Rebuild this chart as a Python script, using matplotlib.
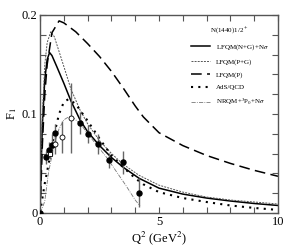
import matplotlib
matplotlib.use("Agg")
import matplotlib.pyplot as plt
from matplotlib.ticker import MultipleLocator

plt.rcParams['font.family'] = ['Liberation Serif', 'DejaVu Serif']
plt.rcParams['mathtext.fontset'] = 'stix'

# LFQM(N+G)+N sigma (solid)
q_solid = [0, 0.05, 0.1, 0.2, 0.3, 0.4, 0.5, 0.7, 1.0, 1.3, 1.68, 2.0, 2.5, 3.0, 3.5, 4.16, 5, 6, 7, 8, 9, 10]
f_solid = [0, 0.05, 0.09, 0.135, 0.155, 0.162, 0.159, 0.148, 0.131, 0.113, 0.094, 0.082, 0.068, 0.056, 0.046, 0.035, 0.025, 0.019, 0.015, 0.012, 0.0095, 0.0075]

# LFQM(P+G) (thin dotted)
q_pg = [0, 0.05, 0.1, 0.2, 0.3, 0.45, 0.6, 0.8, 1.0, 1.3, 1.68, 2.0, 2.5, 3.0, 3.5, 4.16, 5, 6, 7, 8, 9, 10]
f_pg = [0, 0.06, 0.1, 0.15, 0.172, 0.183, 0.178, 0.163, 0.148, 0.125, 0.104, 0.09, 0.073, 0.06, 0.049, 0.038, 0.028, 0.021, 0.016, 0.013, 0.011, 0.009]

# LFQM(P) (dashed)
q_p = [0, 0.1, 0.2, 0.3, 0.5, 0.8, 1.0, 1.5, 2.0, 2.5, 3.0, 3.5, 4.0, 4.34, 5, 6, 7, 8, 9, 10]
f_p = [0, 0.07, 0.12, 0.15, 0.182, 0.194, 0.192, 0.183, 0.171, 0.158, 0.143, 0.126, 0.108, 0.097, 0.081, 0.068, 0.058, 0.050, 0.043, 0.037]

# AdS/QCD (heavy dotted)
q_ads = [0, 0.1, 0.2, 0.3, 0.4, 0.6, 0.8, 1.0, 1.2, 1.5, 2.0, 2.5, 3.0, 3.5, 4.0, 4.33, 5, 6, 7, 8, 9, 10]
f_ads = [0, 0.015, 0.03, 0.042, 0.055, 0.08, 0.1, 0.112, 0.115, 0.11, 0.093, 0.075, 0.058, 0.046, 0.035, 0.029, 0.021, 0.015, 0.011, 0.0075, 0.005, 0.003]

# NRQM + 3P0 + N sigma (thin dash-dot)
q_nr = [0, 0.1, 0.2, 0.35, 0.6, 0.8, 1.0, 1.2, 1.4, 1.7, 2.0, 2.4, 2.8, 3.2, 3.6, 4.0, 4.2]
f_nr = [0, 0.005, 0.012, 0.04, 0.07, 0.085, 0.094, 0.097, 0.096, 0.09, 0.08, 0.068, 0.056, 0.042, 0.028, 0.013, 0.007]

# data: filled circles
q_fill = [0.0, 0.27, 0.38, 0.50, 0.64, 1.68, 2.03, 2.45, 2.91, 3.47, 4.16]
f_fill = [0.0, 0.056, 0.064, 0.069, 0.081, 0.091, 0.080, 0.070, 0.053, 0.051, 0.0205]
e_fill = [0.0, 0.007, 0.008, 0.011, 0.009, 0.011, 0.009, 0.010, 0.008, 0.012, 0.015]
# open circles
q_open = [0.62, 0.92, 1.29]
f_open = [0.070, 0.077, 0.096]
e_open = [0.010, 0.016, 0.035]
# open square
q_sq = [0.41]
f_sq = [0.060]
e_sq = [0.006]

fig = plt.figure(figsize=(2.86, 2.49), dpi=100)
ax = fig.add_axes([0.140, 0.145, 0.832, 0.795])

ax.plot(q_solid, f_solid, color='black', lw=1.1, label='LFQM(N+G)+N$\\sigma$')
ax.plot(q_pg, f_pg, color='#555555', lw=0.7, ls=(0, (2, 1.2)), label='LFQM(P+G)')
ax.plot(q_p, f_p, color='black', lw=1.1, ls=(0, (7, 3.5)), label='LFQM(P)')
ax.plot(q_ads, f_ads, color='black', lw=1.5, ls=(0, (1, 2.5)), label='AdS/QCD')
ax.plot(q_nr, f_nr, color='#777777', lw=0.6, ls=(0, (5, 1.5, 1, 1.5)), label='NRQM+$^3$P$_0$+N$\\sigma$')

ebkw = dict(ecolor='#666666', elinewidth=1.0, capsize=0, ls='none', zorder=5)
ax.errorbar(q_fill, f_fill, yerr=e_fill, fmt='o', mfc='black', mec='black', ms=3.6, **ebkw)
ax.errorbar(q_open, f_open, yerr=e_open, fmt='o', mfc='white', mec='black', mew=0.6, ms=3.6, **ebkw)
ax.errorbar(q_sq, f_sq, yerr=e_sq, fmt='s', mfc='white', mec='black', mew=0.6, ms=3.2, **ebkw)

ax.set_xlim(0, 10)
ax.set_ylim(0, 0.2)
ax.xaxis.set_major_locator(MultipleLocator(5))
ax.xaxis.set_minor_locator(MultipleLocator(1))
ax.yaxis.set_major_locator(MultipleLocator(0.1))
ax.yaxis.set_minor_locator(MultipleLocator(0.02))
ax.set_xticks([0, 5, 10])
ax.set_xticklabels(['0', '5', '10'])
ax.set_yticks([0, 0.1, 0.2])
ax.set_yticklabels(['0', '0.1', '0.2'])
ax.tick_params(which='both', direction='in', top=True, right=True, labelsize=9, pad=2, color='#555555')
ax.tick_params(which='major', length=4, width=0.8)
ax.tick_params(which='minor', length=4, width=0.8)
for s in ax.spines.values():
    s.set_color('#555555')
    s.set_linewidth(1.0)

ax.set_xlabel('Q$^2$ (GeV$^2$)', fontsize=9, labelpad=1)
ax.set_ylabel('F$_1$', fontsize=9, labelpad=2)

leg = ax.legend(loc='upper right', frameon=False, fontsize=5, title='N(1440)1/2$^+$',
                title_fontsize=5, handlelength=2.8, labelspacing=0.95, borderaxespad=0.6,
                bbox_to_anchor=(0.99, 0.98))

fig.savefig('out.png', dpi=100)
